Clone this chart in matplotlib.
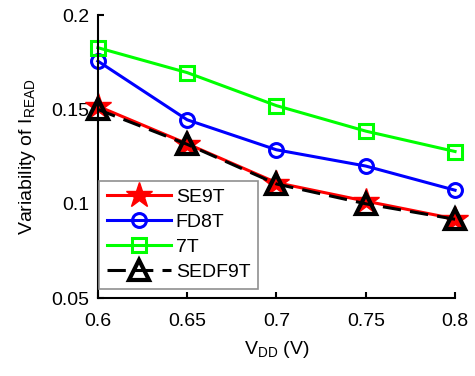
import matplotlib
matplotlib.use('Agg')
import matplotlib.pyplot as plt

plt.rcParams['font.family'] = 'Liberation Sans'
plt.rcParams['mathtext.fontset'] = 'custom'
plt.rcParams['mathtext.rm'] = 'Liberation Sans'

vdd = [0.6, 0.65, 0.7, 0.75, 0.8]
se9t = [0.1517, 0.1318, 0.1112, 0.1014, 0.0920]
fd8t = [0.1756, 0.1445, 0.1286, 0.1200, 0.1072]
t7 = [0.1827, 0.1695, 0.1520, 0.1385, 0.1277]
sedf9t = [0.1500, 0.1315, 0.1105, 0.1000, 0.0918]

x_ticks = [0.6, 0.65, 0.7, 0.75, 0.8]
x_labels = ['0.6', '0.65', '0.7', '0.75', '0.8']
y_ticks = [0.05, 0.1, 0.15, 0.2]
y_labels = ['0.05', '0.1', '0.15', '0.2']

fig = plt.figure(figsize=(4.75, 3.76), dpi=100)
ax = fig.add_axes([0.206, 0.207, 0.752, 0.753])

ax.plot(vdd, se9t, color='red', lw=2.2, marker='*', ms=19, label='SE9T', clip_on=False)
ax.plot(vdd, fd8t, color='blue', lw=2.2, marker='o', ms=10, mfc='none', mew=2.2,
        label='FD8T', clip_on=False)
ax.plot(vdd, t7, color='#00ff00', lw=2.2, marker='s', ms=10, mfc='none', mew=2.2,
        label='7T', clip_on=False)
ax.plot(vdd, sedf9t, color='black', lw=2.2, marker='^', ms=14, mfc='none', mew=3,
        dashes=(6, 3), label='SEDF9T', clip_on=False)

ax.set_xlim(0.6, 0.8)
ax.set_ylim(0.05, 0.2)
ax.set_xticks(x_ticks, x_labels)
ax.set_yticks(y_ticks, y_labels)
ax.tick_params(direction='in', labelsize=14, width=1.5, length=4)
ax.tick_params(axis='x', pad=11)
ax.tick_params(axis='y', pad=6)
for s in ['top', 'right']:
    ax.spines[s].set_visible(False)
for s in ['left', 'bottom']:
    ax.spines[s].set_linewidth(1.5)

ax.set_xlabel(r'V$_{\rm DD}$ (V)', fontsize=14, labelpad=6)
ax.set_ylabel(r'Variability of I$_{\rm READ}$', fontsize=14, labelpad=10)

leg = ax.legend(loc='upper left', bbox_to_anchor=(0.003, 0.415), fontsize=14,
                fancybox=False, edgecolor='#909090', framealpha=1,
                handlelength=3.3, borderaxespad=0, labelspacing=0.38,
                handletextpad=0.25, borderpad=0.4)
leg.get_frame().set_linewidth(1.2)

fig.savefig('out.png', dpi=100)
